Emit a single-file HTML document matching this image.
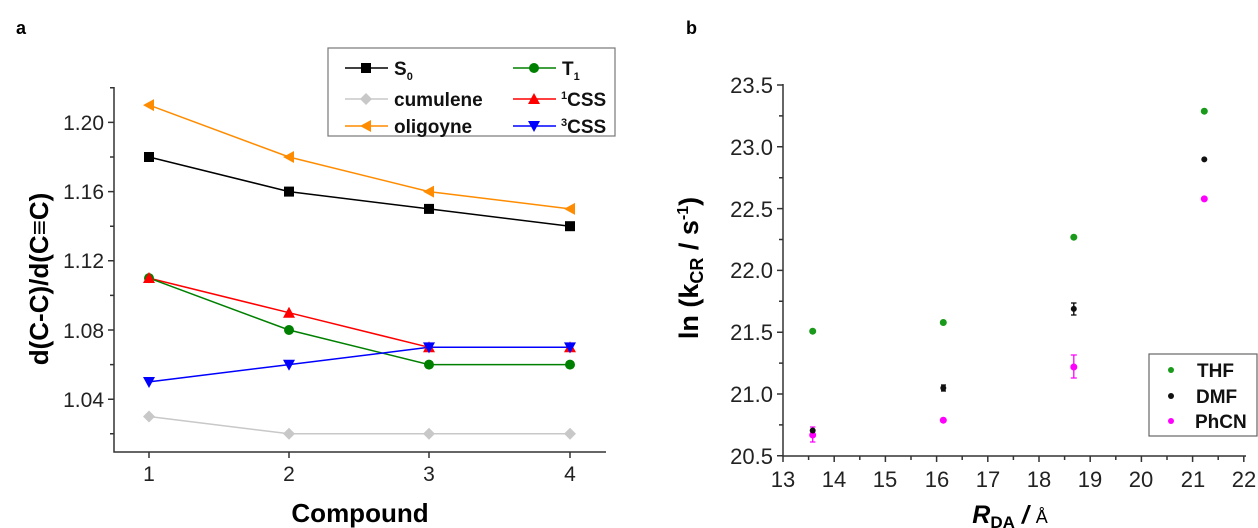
<!DOCTYPE html>
<html><head><meta charset="utf-8"><style>
html,body{margin:0;padding:0;background:#fff;}
svg{display:block;font-family:"Liberation Sans",Arial,sans-serif;}
</style></head><body>
<svg width="1258" height="528" viewBox="0 0 1258 528" xmlns="http://www.w3.org/2000/svg">
<rect width="1258" height="528" fill="#fff"/>
<text x="16" y="34" font-size="18" font-weight="bold">a</text>
<text x="686" y="34" font-size="18" font-weight="bold">b</text>

<!-- Panel a axes -->
<g stroke="#333" stroke-width="1.5" fill="none">
<path d="M114,87 V452 H606"/>
<path d="M108,122.4 H114 M108,191.6 H114 M108,260.8 H114 M108,330 H114 M108,399.2 H114"/>
<path d="M110,87.8 H114 M110,157 H114 M110,226.2 H114 M110,295.4 H114 M110,364.6 H114 M110,433.8 H114"/>
<path d="M149,452 V458 M289,452 V458 M429,452 V458 M570,452 V458"/>
</g>
<g font-size="21" fill="#222" text-anchor="end">
<text x="104" y="130">1.20</text><text x="104" y="199">1.16</text><text x="104" y="268">1.12</text><text x="104" y="338">1.08</text><text x="104" y="407">1.04</text>
</g>
<g font-size="21" fill="#222" text-anchor="middle">
<text x="149" y="481">1</text><text x="289" y="481">2</text><text x="429" y="481">3</text><text x="570" y="481">4</text>
</g>
<text x="360" y="522" font-size="26" font-weight="bold" text-anchor="middle">Compound</text>
<text transform="translate(48,279) rotate(-90)" font-size="26" font-weight="bold" text-anchor="middle">d(C-C)/d(C≡C)</text>

<g fill="none" stroke-width="1.5">
<polyline stroke="#ff8c00" points="149,105.1 289,157 429,191.6 570,208.9"/>
<polyline stroke="#000" points="149,157 289,191.6 429,208.9 570,226.2"/>
<polyline stroke="#ff0000" points="149,278.1 289,312.7 429,347.3 570,347.3"/>
<polyline stroke="#008000" points="149,278.1 289,330 429,364.6 570,364.6"/>
<polyline stroke="#0000ff" points="149,381.9 289,364.6 429,347.3 570,347.3"/>
<polyline stroke="#c8c8c8" points="149,416.5 289,433.8 429,433.8 570,433.8"/>
</g>
<g fill="#ff8c00"><path d="M143,105.1 l11,-6 v12z"/><path d="M283,157 l11,-6 v12z"/><path d="M423,191.6 l11,-6 v12z"/><path d="M564,208.9 l11,-6 v12z"/></g>
<g fill="#000"><rect x="144" y="152" width="10" height="10"/><rect x="284" y="186.6" width="10" height="10"/><rect x="424" y="203.9" width="10" height="10"/><rect x="565" y="221.2" width="10" height="10"/></g>
<g fill="#008000"><circle cx="149" cy="278.1" r="5"/><circle cx="289" cy="330" r="5"/><circle cx="429" cy="364.6" r="5"/><circle cx="570" cy="364.6" r="5"/></g>
<g fill="#ff0000"><path d="M149,272 l6,11 h-12z"/><path d="M289,306.7 l6,11 h-12z"/><path d="M429,341.3 l6,11 h-12z"/><path d="M570,341.3 l6,11 h-12z"/></g>
<g fill="#0000ff"><path d="M143,377 h12 l-6,11z"/><path d="M283,359.7 h12 l-6,11z"/><path d="M423,342.4 h12 l-6,11z"/><path d="M564,342.4 h12 l-6,11z"/></g>
<g fill="#c8c8c8"><path d="M149,410.5 l6,6 -6,6 -6,-6z"/><path d="M289,427.8 l6,6 -6,6 -6,-6z"/><path d="M429,427.8 l6,6 -6,6 -6,-6z"/><path d="M570,427.8 l6,6 -6,6 -6,-6z"/></g>

<!-- legend a -->
<rect x="328" y="48" width="287" height="88" fill="#fff" stroke="#777" stroke-width="1.2"/>
<g stroke-width="1.5">
<line x1="345" y1="68" x2="388" y2="68" stroke="#000"/><rect x="361" y="63" width="10" height="10" fill="#000"/>
<line x1="345" y1="99" x2="388" y2="99" stroke="#c8c8c8"/><path d="M366,93 l6,6 -6,6 -6,-6z" fill="#c8c8c8"/>
<line x1="345" y1="126" x2="388" y2="126" stroke="#ff8c00"/><path d="M360,126 l11,-6 v12z" fill="#ff8c00"/>
<line x1="513" y1="68" x2="556" y2="68" stroke="#008000"/><circle cx="534" cy="68" r="5" fill="#008000"/>
<line x1="513" y1="99" x2="556" y2="99" stroke="#ff0000"/><path d="M534,93 l6,11 h-12z" fill="#ff0000"/>
<line x1="513" y1="126" x2="556" y2="126" stroke="#0000ff"/><path d="M528,121 h12 l-6,11z" fill="#0000ff"/>
</g>
<g font-size="19" font-weight="bold" fill="#111">
<text x="394" y="75">S<tspan font-size="11" dy="5">0</tspan></text>
<text x="394" y="106">cumulene</text>
<text x="394" y="133">oligoyne</text>
<text x="562" y="75">T<tspan font-size="11" dy="5">1</tspan></text>
<text x="561" y="106"><tspan font-size="11" dy="-7">1</tspan><tspan dy="7">CSS</tspan></text>
<text x="561" y="133"><tspan font-size="11" dy="-7">3</tspan><tspan dy="7">CSS</tspan></text>
</g>

<!-- Panel b -->
<g stroke="#333" stroke-width="1.5" fill="none">
<path d="M783,84 V456 H1246"/>
<path d="M777,85 H783 M777,146.8 H783 M777,208.6 H783 M777,270.4 H783 M777,332.2 H783 M777,394 H783 M777,455.8 H783"/>
<path d="M779,115.9 H783 M779,177.7 H783 M779,239.5 H783 M779,301.3 H783 M779,363.1 H783 M779,424.9 H783"/>
<path d="M783,456 V462 M834.2,456 V462 M885.4,456 V462 M936.6,456 V462 M987.8,456 V462 M1039,456 V462 M1090.2,456 V462 M1141.4,456 V462 M1192.6,456 V462 M1243.8,456 V462"/>
<path d="M808.6,456 V460 M859.8,456 V460 M911,456 V460 M962.2,456 V460 M1013.4,456 V460 M1064.6,456 V460 M1115.8,456 V460 M1167,456 V460 M1218.2,456 V460"/>
</g>
<g font-size="22" fill="#222" text-anchor="end">
<text x="773" y="93">23.5</text><text x="773" y="155">23.0</text><text x="773" y="217">22.5</text><text x="773" y="278">22.0</text><text x="773" y="340">21.5</text><text x="773" y="402">21.0</text><text x="773" y="464">20.5</text>
</g>
<g font-size="22" fill="#222" text-anchor="middle">
<text x="783" y="487">13</text><text x="834" y="487">14</text><text x="885" y="487">15</text><text x="937" y="487">16</text><text x="988" y="487">17</text><text x="1039" y="487">18</text><text x="1090" y="487">19</text><text x="1141" y="487">20</text><text x="1193" y="487">21</text><text x="1244" y="487">22</text>
</g>
<text x="1010" y="523" font-size="25" text-anchor="middle"><tspan font-weight="bold" font-style="italic">R</tspan><tspan font-weight="bold" font-size="17" dy="5">DA</tspan><tspan dy="-5" font-weight="bold" font-style="italic"> / </tspan><tspan font-size="18">Å</tspan></text>
<text transform="translate(698,268) rotate(-90)" font-size="27" font-weight="bold" text-anchor="middle">ln (k<tspan font-size="18" dy="5">CR</tspan><tspan dy="-5"> / s</tspan><tspan font-size="16" dy="-10">-1</tspan><tspan dy="10">)</tspan></text>

<!-- error bars -->
<g stroke-width="1.3" fill="none">
<path stroke="#ff00ff" d="M812.7,442 V427 M810,442 h5.4 M810,427 h5.4"/>
<path stroke="#000" d="M1073.8,315 V303 M1071,315 h5.5 M1071,303 h5.5"/>
<path stroke="#ff00ff" d="M1073.8,378 V355 M1070.8,378 h6 M1070.8,355 h6"/>
<path stroke="#000" d="M943.3,391 V385 M941,391 h5 M941,385 h5"/>
</g>
<g fill="#1a9a1a"><circle cx="812.7" cy="331.2" r="3.5"/><circle cx="943.3" cy="322.5" r="3.5"/><circle cx="1073.8" cy="237.2" r="3.5"/><circle cx="1204.3" cy="111.2" r="3.5"/></g>
<g fill="#ff00ff"><circle cx="812.7" cy="435" r="3.5"/><circle cx="943.3" cy="420.2" r="3.5"/><circle cx="1073.8" cy="367" r="3.5"/><circle cx="1204.3" cy="198.9" r="3.5"/></g>
<g fill="#111"><circle cx="812.7" cy="430.5" r="3"/><circle cx="943.3" cy="388" r="3"/><circle cx="1073.8" cy="308.9" r="3"/><circle cx="1204.3" cy="159.4" r="3"/></g>

<!-- legend b -->
<rect x="1149" y="354" width="108" height="82" fill="#fff" stroke="#666" stroke-width="1.2"/>
<circle cx="1171" cy="370" r="3" fill="#1a9a1a"/><circle cx="1171" cy="396" r="3" fill="#111"/><circle cx="1171" cy="421" r="3" fill="#ff00ff"/>
<g font-size="19" font-weight="bold" fill="#111"><text x="1197" y="377">THF</text><text x="1196" y="403">DMF</text><text x="1195" y="428">PhCN</text></g>
</svg>
</body></html>
